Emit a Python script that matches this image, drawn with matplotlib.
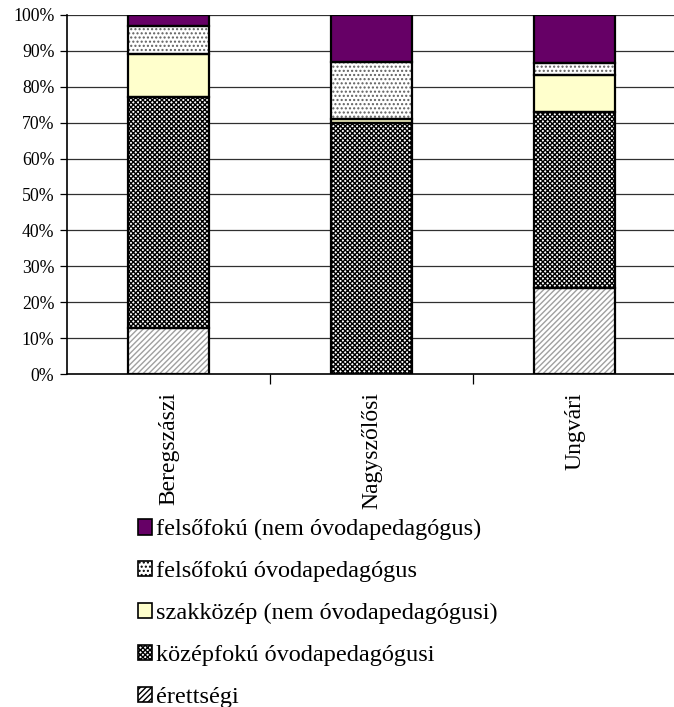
import numpy as np
import matplotlib
matplotlib.use("Agg")
import matplotlib.pyplot as plt
from matplotlib.patches import Patch

plt.rcParams['font.family'] = ['Liberation Serif', 'DejaVu Serif']
plt.rcParams['hatch.linewidth'] = 1.0

# Share of kindergarten staff by qualification, per district (%)
districts = ["Beregszászi", "Nagyszőlősi", "Ungvári"]
series = ["érettségi", "középfokú óvodapedagógusi", "szakközép (nem óvodapedagógusi)",
          "felsőfokú óvodapedagógus", "felsőfokú (nem óvodapedagógus)"]
erettsegi = [12.8, 0.0, 24.0]
kozepfoku = [64.4, 69.8, 49.0]
szakkozep = [11.9, 1.2, 10.3]
felso_ovoda = [7.8, 16.0, 3.2]
felso_nem = [3.1, 13.0, 13.5]
values = [erettsegi, kozepfoku, szakkozep, felso_ovoda, felso_nem]

# fill, hatch, hatch colour for each series
styles = [
    ("white", "//////", "#a0a0a0"),
    ("white", "xxxxxxx", "black"),
    ("#ffffcc", None, "black"),
    ("white", "....", "#606060"),
    ("#660066", None, "black"),
]

fig = plt.figure(figsize=(6.74, 7.07), dpi=100)
ax = fig.add_axes([0.0994, 0.471, 0.9036, 0.5078])

x = np.arange(len(districts))
width = 0.40
bottom = np.zeros(len(districts))
for vals, (fc, hatch, hc) in zip(values, styles):
    vals = np.array(vals)
    ax.bar(x, vals, width, bottom=bottom, color=fc, hatch=hatch,
           edgecolor=hc, linewidth=0, zorder=2)
    ax.bar(x, vals, width, bottom=bottom, fill=False,
           edgecolor="black", linewidth=1.6, zorder=3)
    bottom += vals

ax.set_xlim(-0.5, 2.5)
ax.set_ylim(0, 100)
ax.set_yticks(np.arange(0, 101, 10))
ax.set_yticklabels([f"{v}%" for v in range(0, 101, 10)], fontsize=12.8)
for yv in range(10, 101, 10):
    ax.axhline(yv, color="#303030", linewidth=0.9, zorder=1)

ax.set_xticks([0.5, 1.5])
ax.set_xticklabels([])
ax.tick_params(axis="x", length=7, width=0.9, direction="out")
ax.tick_params(axis="y", length=5, width=0.9, direction="out", pad=4)
for xi, name in zip(x, districts):
    ax.text(xi, -5.0, name, rotation=90, ha="center", va="top", fontsize=17,
            transform=ax.transData)

for side in ["top", "right"]:
    ax.spines[side].set_visible(False)
ax.spines["left"].set_linewidth(1.2)
ax.spines["bottom"].set_linewidth(1.2)

handles = []
for name, (fc, hatch, hc) in zip(series, styles):
    handles.append(Patch(facecolor=fc, hatch=hatch, edgecolor="black",
                         linewidth=1.2, label=name))
fig.legend(handles[::-1], series[::-1], loc="upper left",
           bbox_to_anchor=(0.19, 0.2795), frameon=False, fontsize=17.5,
           handlelength=0.6, handleheight=0.6, handletextpad=0.15,
           labelspacing=0.85, borderaxespad=0)

fig.savefig("out.png", dpi=100)
